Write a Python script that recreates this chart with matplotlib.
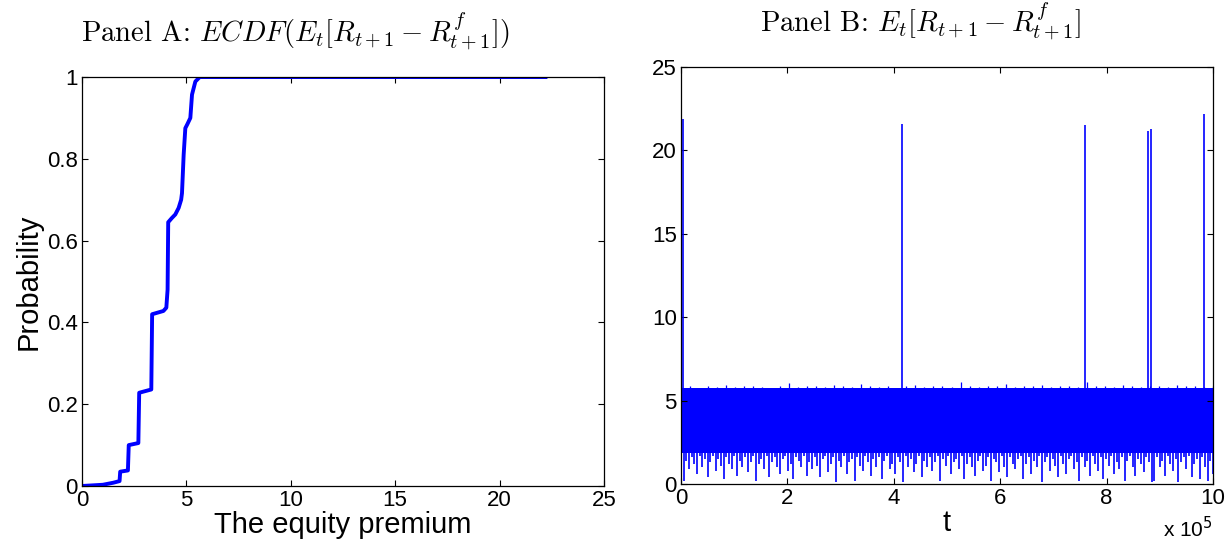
import numpy as np
import matplotlib
matplotlib.use('Agg')
import matplotlib.pyplot as plt

plt.rcParams['font.family'] = ['Liberation Sans', 'DejaVu Sans']
plt.rcParams['mathtext.fontset'] = 'cm'

# Panel A: empirical CDF of the expected equity premium
ecdf_x = [0, 1.0, 1.5, 1.8, 1.83, 2.2, 2.24, 2.7, 2.74, 3.32, 3.36, 3.9, 4.04,
          4.1, 4.13, 4.3, 4.47, 4.63, 4.75, 4.79, 4.87, 4.95, 5.05, 5.19, 5.27,
          5.43, 5.64, 22.2]
ecdf_y = [0, 0.003, 0.008, 0.012, 0.035, 0.038, 0.1, 0.105, 0.228, 0.236, 0.42,
          0.428, 0.436, 0.48, 0.645, 0.655, 0.664, 0.68, 0.70, 0.716, 0.81,
          0.875, 0.885, 0.9, 0.957, 0.989, 1.0, 1.0]

# Panel B: simulated path, t = 0 .. 1e6
t_max = 1e6
band_bottom = 1.85
band_top = 5.78
lows = [0.05, 0.2, 1.4, 0.9, 1.6, 1.2, 0.6, 1.7, 1.0, 1.5, 0.4, 1.3, 1.7, 0.8, 1.5, 1.1, 0.3, 1.6, 1.2, 0.9, 1.7, 0.5, 1.4, 1.0, 1.6,
        0.7, 1.3, 1.7, 0.2, 1.2, 1.5, 0.9, 1.7, 0.4, 1.3, 1.6, 1.0, 0.6, 1.5, 1.7, 0.8, 1.2, 0.3, 1.6, 1.4, 1.0, 1.7, 0.5, 1.3, 0.9,
        1.6, 1.1, 0.4, 1.5, 1.7, 0.7, 1.2, 1.6, 0.1, 1.4, 1.0, 1.7, 0.6, 1.3, 1.5, 0.2, 1.6, 1.1, 0.8, 1.7, 1.3, 0.5, 1.5, 1.0, 1.6,
        0.3, 1.4, 1.7, 0.9, 1.2, 0.6, 1.6, 1.3, 0.1, 1.7, 1.0, 1.5, 0.7, 1.2, 1.7, 0.4, 1.4, 1.0, 1.6, 0.8, 1.3, 1.7, 0.2, 1.5, 1.1,
        1.7, 0.6, 1.3, 1.5, 0.9, 1.7, 0.3, 1.2, 1.6, 1.0, 0.5, 1.4, 1.7, 0.8, 1.1, 1.6, 0.2, 1.5, 1.3, 0.7, 1.7, 1.0, 0.4, 1.6, 1.2,
        0.9, 1.5, 1.7, 0.3, 1.2, 1.6, 0.6, 1.4, 1.0, 1.7, 0.1, 1.3, 1.6, 0.8, 1.5, 1.1, 0.4, 1.7, 1.2, 0.6, 1.5, 1.7, 0.9, 1.3, 0.2,
        1.6, 1.0, 1.4, 0.5, 1.7, 1.2, 0.8, 1.6, 0.3, 1.5, 1.1, 1.7, 0.6, 1.3, 0.9, 1.6, 0.2, 1.4, 1.7, 1.0, 0.5, 1.5, 1.2, 0.7, 1.6,
        1.3, 0.1, 0.2, 1.6, 1.0, 1.4, 0.5, 1.7, 1.2, 0.8, 1.5, 0.1, 1.3, 1.6, 0.9, 1.7, 0.4, 1.2, 1.5, 0.3, 1.6, 1.0, 0.2, 1.4, 0.6]
highs = [5.8, 5.85, 5.75, 5.9, 5.8, 5.95, 5.8, 5.85, 5.9, 5.8, 5.75, 5.9, 6.05, 5.8,
         5.85, 5.9, 5.8, 5.95, 5.85, 5.8, 6.0, 5.85, 5.8, 5.9, 5.75, 5.85, 5.95, 5.8,
         5.85, 5.9, 5.8, 6.1, 5.85, 5.8, 5.9, 5.85, 6.0, 5.8, 5.85, 5.9, 5.95, 5.8,
         5.85, 5.9, 5.8, 6.1, 5.85, 5.9, 5.8, 5.95, 5.85, 5.8, 5.9, 5.85, 5.8, 5.95,
         5.85, 5.9, 5.8, 5.85]
spike_t = [3000, 4.15e5, 7.59e5, 8.77e5, 8.83e5, 9.83e5]
spike_h = [21.9, 21.6, 21.5, 21.17, 21.31, 22.2]

blue = '#0000ff'
fig = plt.figure(figsize=(12.31, 5.46), dpi=100)
axA = fig.add_axes([0.0666, 0.1099, 0.4240, 0.7490])
axB = fig.add_axes([0.5532, 0.1136, 0.4322, 0.7637])

axA.plot(ecdf_x, ecdf_y, color=blue, lw=2.8, solid_joinstyle='round')
axA.set_xlim(0, 25)
axA.set_ylim(0, 1)
axA.set_xticks([0, 5, 10, 15, 20, 25])
axA.set_yticks([0, 0.2, 0.4, 0.6, 0.8, 1])
axA.set_yticklabels(['0', '0.2', '0.4', '0.6', '0.8', '1'])
axA.set_xlabel('The equity premium', fontsize=21, labelpad=0)
axA.set_ylabel('Probability', fontsize=21, labelpad=3)
axA.set_title(r'Panel A: $ECDF(E_t[R_{t+1}-R^f_{t+1}])$', x=0.408,
              fontsize=20.6, pad=26, fontfamily='cmr10')

# dense band of the path, its jagged edges and the rare jumps
axB.fill_between([0, t_max], band_bottom, band_top, color=blue, lw=0)
axB.vlines(np.linspace(0, t_max, len(lows)), lows, band_bottom + 0.2,
           color=blue, lw=1.2)
axB.vlines(np.linspace(0, t_max, len(highs)), band_top - 0.2, highs,
           color=blue, lw=0.9)
axB.vlines(spike_t, band_top - 0.2, spike_h, color=blue, lw=1.2)
axB.set_xlim(0, t_max)
axB.set_ylim(0, 25)
axB.set_xticks(np.arange(0, 11, 2) * 1e5)
axB.set_xticklabels(['0', '2', '4', '6', '8', '10'])
axB.set_yticks([0, 5, 10, 15, 20, 25])
axB.set_xlabel('t', fontsize=21, labelpad=0)
axB.set_title(r'Panel B: $E_t[R_{t+1}-R^f_{t+1}]$', x=0.451,
              fontsize=20.6, pad=26, fontfamily='cmr10')
axB.text(1.0, -0.127, r'x 10$^{5}$', transform=axB.transAxes,
         ha='right', va='baseline', fontsize=15,
         math_fontfamily='dejavusans')

for ax in (axA, axB):
    ax.tick_params(direction='in', top=True, right=True, length=4,
                   width=0.8, labelsize=16, pad=3)
    for s in ax.spines.values():
        s.set_linewidth(0.9)

fig.savefig('out.png', dpi=100)
